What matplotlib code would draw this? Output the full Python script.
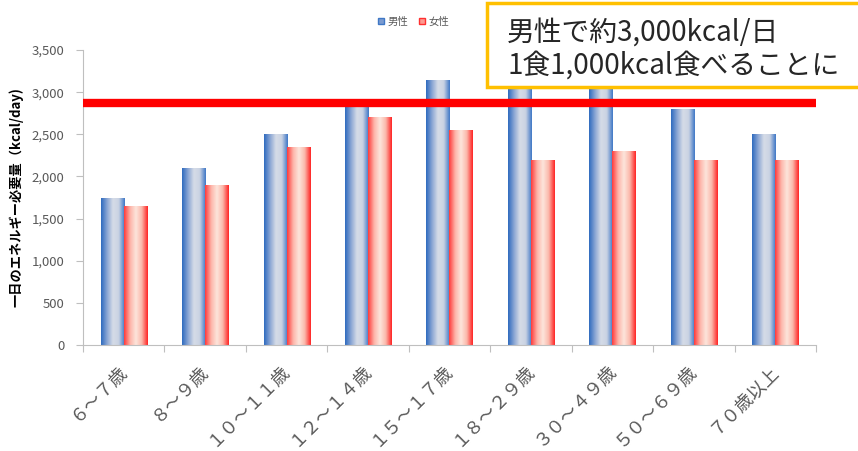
import numpy as np
import matplotlib.pyplot as plt
from matplotlib.colors import LinearSegmentedColormap
from matplotlib.patches import Rectangle, Patch

plt.rcParams['font.family'] = ['Noto Sans CJK JP', 'DejaVu Sans']

# ---- data ----
categories = ['６～７歳', '８～９歳', '１０～１１歳', '１２～１４歳', '１５～１７歳',
              '１８～２９歳', '３０～４９歳', '５０～６９歳', '７０歳以上']
male = [1750, 2100, 2500, 2900, 3150, 3050, 3050, 2800, 2500]
female = [1650, 1900, 2350, 2700, 2550, 2200, 2300, 2200, 2200]
target_line = 2870
yticks = [0, 500, 1000, 1500, 2000, 2500, 3000, 3500]

# gradient maps (left edge -> centre -> right edge)
blue_cmap = LinearSegmentedColormap.from_list(
    'b', ['#2f6bbf', '#8aa6d4', '#d6dce7', '#c9d2e3', '#3f78c6'])
red_cmap = LinearSegmentedColormap.from_list(
    'r', ['#ff3b3b', '#fdb3a8', '#fde6dc', '#fbb7aa', '#ff2424'])

fig = plt.figure(figsize=(8.58, 4.51), dpi=100)
ax = fig.add_axes([83 / 858, 1 - 345 / 451, (816 - 83) / 858, 295 / 451])

x = np.arange(len(categories))
w = 0.283
grad = np.linspace(0, 1, 64).reshape(1, -1)


def gradient_bars(xs, vals, cmap):
    bars = ax.bar(xs, vals, w, color='none', edgecolor='none')
    for b in bars:
        x0, y0 = b.get_x(), b.get_y()
        im = ax.imshow(grad, cmap=cmap, aspect='auto', interpolation='bicubic',
                       extent=(x0, x0 + b.get_width(), y0, y0 + b.get_height()),
                       zorder=2)
        im.set_clip_path(b)
    return bars


gradient_bars(x - w / 2, male, blue_cmap)
gradient_bars(x + w / 2, female, red_cmap)

ax.axhline(target_line, color='#ff0000', linewidth=6, zorder=4)

ax.set_xlim(-0.5, len(categories) - 0.5)
ax.set_ylim(0, 3500)
ax.set_yticks(yticks)
ax.set_yticklabels([f'{v:,}' for v in yticks], color='#595959', fontsize=9.5)
ax.set_ylabel('一日のエネルギー必要量（kcal/day)', fontsize=9.5, fontweight='bold', labelpad=6)

# ticks between categories, labels drawn as rotated texts below the axis
ax.set_xticks(np.arange(-0.5, len(categories)))
ax.set_xticklabels([])
ax.tick_params(axis='x', length=5, color='#bfbfbf')
ax.tick_params(axis='y', length=5, color='#bfbfbf', pad=8.5)
for xi, lab in zip(x, categories):
    ax.annotate(lab, xy=(xi, 0), xycoords=('data', 'axes fraction'),
                xytext=(-6, -16), textcoords='offset pixels',
                rotation=45, rotation_mode='anchor', ha='right', va='top',
                fontsize=13, color='#595959')

for s in ['top', 'right']:
    ax.spines[s].set_visible(False)
for s in ['left', 'bottom']:
    ax.spines[s].set_color('#bfbfbf')

handles = [Patch(facecolor='#7b9bd0', edgecolor='#3f78c6'),
           Patch(facecolor='#fd9a90', edgecolor='#ff3030')]
fig.legend(handles, ['男性', '女性'], loc='center', bbox_to_anchor=(0.482, 0.952),
           ncol=2, frameon=False, fontsize=7.5, handlelength=0.6, handleheight=0.6,
           handletextpad=0.3, columnspacing=1.0, labelcolor='#595959')

# annotation box
box = Rectangle((487 / 858, 1 - 87 / 451), 0.5, 84 / 451, transform=fig.transFigure,
                facecolor='white', edgecolor='#ffc000', linewidth=2.5, zorder=10)
fig.patches.append(box)
fig.text(507 / 858, 1 - 49 / 451, '男性で約3,000kcal/日\n1食1,000kcal食べることに',
         fontsize=20, color='#262626', ha='left', va='center', linespacing=1.15,
         zorder=11)

fig.savefig('out.png', dpi=100)
